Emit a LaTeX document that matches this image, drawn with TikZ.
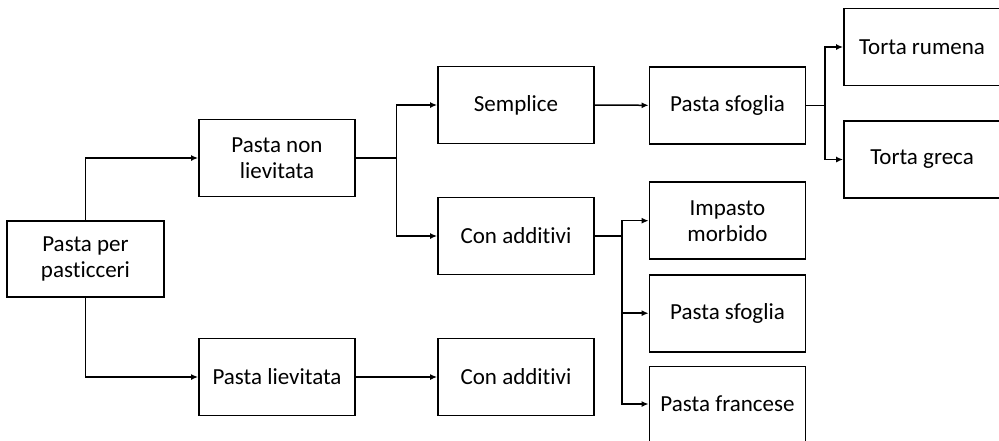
\documentclass[tikz,border=0pt]{standalone}
\usepackage{fontspec}
\setmainfont{Carlito}[RawFeature=-liga]
\usetikzlibrary{calc,arrows.meta}
\begin{document}
\begin{tikzpicture}[x=1pt,y=-1pt,
  box/.style={draw=black,line width=1.8pt,rectangle,minimum width=156pt,minimum height=77pt,
    align=center,inner sep=0pt,font=\fontsize{23}{26}\selectfont},
  arr/.style={line width=1.5pt,-{Latex[length=7pt,width=6pt]}},
  link/.style={line width=1.5pt}]
\useasboundingbox (0,0) rectangle (999,440);
\begin{scope}
\clip (0,0) rectangle (999,440);
% first level
\node[box,minimum width=157pt,minimum height=76pt] (root) at (85.5,259) {Pasta per\\pasticceri};
% second level
\node[box] (nonliev) at (277,158) {Pasta non\\lievitata};
\node[box] (liev) at (277,377) {Pasta lievitata};
% third level
\node[box] (sempl) at (516,105) {Semplice};
\node[box] (addA) at (516,236) {Con additivi};
\node[box] (addB) at (516,377) {Con additivi};
% fourth level
\node[box] (sfogA) at (727.5,105.3) {Pasta sfoglia};
\node[box] (morb) at (727.5,220.7) {Impasto\\morbido};
\node[box] (sfogB) at (727.5,313.2) {Pasta sfoglia};
\node[box,minimum height=75pt] (franc) at (727.5,404) {Pasta francese};
% fifth level
\node[box] (rum) at (922,47) {Torta rumena};
\node[box] (grec) at (922,159.5) {Torta greca};
\end{scope}
% branch points
\coordinate (m1) at ($(nonliev.east)!0.5!(sempl.west)$);
\coordinate (m2) at ($(addA.east)!0.5!(morb.west)$);
\coordinate (m3) at ($(sfogA.east)!0.5!(rum.west)$);
% connectors
\draw[arr] (root.north) |- (nonliev.west);
\draw[arr] (root.south) |- (liev.west);
\draw[link] (nonliev.east) -- (m1 |- nonliev.east);
\draw[arr] (m1 |- nonliev.east) |- (sempl.west);
\draw[arr] (m1 |- nonliev.east) |- (addA.west);
\draw[arr] (liev.east) -- (addB.west);
\draw[arr] (sempl.east) -- (sfogA.west);
\draw[link] (addA.east) -- (m2 |- addA.east);
\draw[arr] (m2 |- addA.east) |- (morb.west);
\draw[arr] (m2 |- addA.east) |- (sfogB.west);
\draw[arr] (m2 |- addA.east) |- (franc.west);
\draw[link] (sfogA.east) -- (m3 |- sfogA.east);
\draw[arr] (m3 |- sfogA.east) |- (rum.west);
\draw[arr] (m3 |- sfogA.east) |- (grec.west);
\end{tikzpicture}
\end{document}
